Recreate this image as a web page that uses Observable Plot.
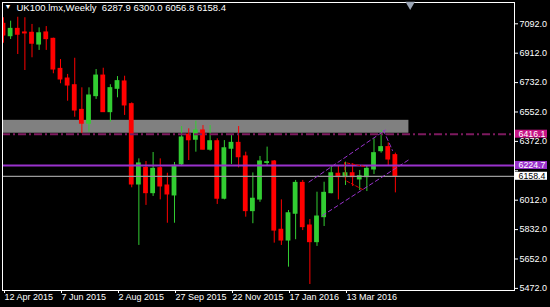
<!DOCTYPE html>
<html><head><meta charset="utf-8">
<script src="https://cdn.jsdelivr.net/npm/d3@7"></script>
<script src="https://cdn.jsdelivr.net/npm/@observablehq/plot@0.6"></script>
<style>html,body{margin:0;padding:0;background:#000;overflow:hidden}</style>
</head><body><div id="chart"></div>
<script>
// ---- data ----
const symbolName = "UK100.lmx";
const timeframe = "Weekly";
const opens  = [7092,7016,7061,7039,7037,6965,7039,7000,6816,6757,6716,6565,6480,6649,6775,6551,6694,6739,6600,6108,6210,6055,6208,6102,6041,6231,6414,6382,6439,6321,6373,6021,6327,6363,6280,5945,6016,6240,6249,5831,5765,5929,6118,5857,5755,5908,6055,6174,6153,6177,6139,6153,6200,6312,6337,6287.9];
const highs  = [7129,7108,7132,7129,7088,7067,7075,7004,6873,6782,6881,6700,6700,6812,6820,6719,6769,6771,6608,6265,6249,6304,6265,6177,6243,6463,6449,6496,6469,6469,6388,6377,6414,6463,6306,6179,6280,6337,6255,6014,5949,6133,6133,5894,6061,6122,6224,6224,6245,6235,6194,6224,6388,6439,6363,6300.0];
const lows   = [6973,6996,6904,6806,6884,6929,6929,6786,6725,6618,6520,6419,6428,6629,6549,6490,6639,6531,6088,5735,5980,6035,6014,5871,5871,6218,6255,6306,6320,6312,5986,6014,6231,6210,5908,5868,5999,6220,5749,5735,5602,5770,5826,5496,5729,5851,6051,6014,6102,6096,6071,6065,6169,6300,6224,6056.8];
const closes = [7020,7061,7025,7033,6970,7034,6998,6812,6751,6714,6561,6480,6653,6775,6551,6698,6741,6592,6108,6237,6055,6204,6096,6047,6223,6396,6379,6439,6321,6373,6021,6330,6363,6275,5945,6021,6249,6245,5826,5765,5932,6118,5847,5755,5912,6057,6177,6153,6177,6153,6159,6204,6300,6337,6261,6158.4];
const xTickIndex  = [0, 8, 16, 24, 32, 40, 48];
const xTickLabels = ["12 Apr 2015","7 Jun 2015","2 Aug 2015","27 Sep 2015","22 Nov 2015","17 Jan 2016","13 Mar 2016"];
const yTicks = [7092,6912,6732,6552,6372,6192,6012,5832,5652,5472];
const yHiddenLabel = 6192; // label covered by price labels in the reference
const zoneTop = 6501, zoneBottom = 6422, zoneStart = -2, zoneEnd = 56.9;
const levelValues = [6416.1, 6224.7, 6158.4];
const levelColors = ["#7d1a5f", "#9932cc", "#9a9a9a"];
const levelLabelFill = ["#c71585", "#9932cc", "#ffffff"];
const levelLabelText = ["#ffffff", "#ffffff", "#000000"];
const channelUpperIdx = [42.88, 53.61], channelUpperPrice = [6123.4, 6441.8];
const channelLowerIdx = [44.77, 56.84], channelLowerPrice = [5918.3, 6258.1];
const peakLineIdx = [53.33, 54.6], peakLinePrice = [6438.7, 6316.3];
const redShapeIdx = [50.67, 47.86, 48.0, 50.67], redShapePrice = [6218.3, 6242.8, 6132.6, 6071.4];
const shiftIndex = 57.08;

// ---- build ----
const candles = opens.map((o, i) => ({i, open: o, high: highs[i], low: lows[i], close: closes[i],
  color: closes[i] >= o ? "#32cd32" : "#ff0000"}));
const zone = [{x1: zoneStart, x2: zoneEnd, y1: zoneBottom, y2: zoneTop}];
const levels = levelValues.map((v, k) => ({v, color: levelColors[k], bg: levelLabelFill[k], fg: levelLabelText[k]}));
const pts = (xs, ys, g) => xs.map((x, k) => ({x, y: ys[k], g}));
const channel = [...pts(channelUpperIdx, channelUpperPrice, "u"), ...pts(channelLowerIdx, channelLowerPrice, "l"), ...pts(peakLineIdx, peakLinePrice, "p")];
const redShape = pts(redShapeIdx, redShapePrice, "r");
const last = candles[candles.length - 1];
const nb = "\u00a0";
const title = `${symbolName},${timeframe}${nb}${nb}${last.open.toFixed(1)} ${last.high.toFixed(1)} ${last.low.toFixed(1)} ${last.close.toFixed(1)}`;

const chart = Plot.plot({
  width: 550, height: 307,
  marginLeft: 2, marginRight: 36, marginTop: 2, marginBottom: 17,
  style: {background: "#000", color: "#fff", fontFamily: "'Liberation Sans', Arial, sans-serif", fontSize: "9px"},
  x: {type: "linear", domain: [-0.1404, 71.72]},
  y: {type: "linear", domain: [5459.1, 7222.4]},
  marks: [
    Plot.rect(zone, {x1: "x1", x2: "x2", y1: "y1", y2: "y2", fill: "#808080", clip: true}),
    Plot.ruleX(candles, {x: "i", y1: "low", y2: "high", stroke: "color", strokeWidth: 1, clip: true}),
    Plot.rect(candles, {x1: "i", x2: "i", y1: "open", y2: "close", fill: "color",
      insetLeft: -2.4, insetRight: -2.4, insetTop: -0.5, insetBottom: -0.5, clip: true}),
    Plot.ruleY(levels.slice(0, 1), {y: "v", stroke: "color", strokeWidth: 2, strokeDasharray: "8,3,2,3"}),
    Plot.ruleY(levels.slice(1, 2), {y: "v", stroke: "color", strokeWidth: 2}),
    Plot.ruleY(levels.slice(2, 3), {y: "v", stroke: "color", strokeWidth: 1.3}),
    Plot.line(channel, {x: "x", y: "y", z: "g", stroke: "#9932cc", strokeWidth: 1, strokeDasharray: "4,3", clip: true}),
    Plot.line(redShape, {x: "x", y: "y", stroke: "#dd0000", strokeWidth: 1, strokeDasharray: "3,2", clip: true}),
    Plot.frame({stroke: "#fff"}),
    Plot.axisX({ticks: xTickIndex, tickFormat: d => xTickLabels[xTickIndex.indexOf(d)], anchor: "bottom",
      tickSize: 3, tickPadding: 0, textAnchor: "start", dx: 1, label: null, fill: "#fff", stroke: "#fff"}),
    Plot.axisY({ticks: yTicks, tickFormat: d => d === yHiddenLabel ? "" : d.toFixed(1), anchor: "right",
      tickSize: 3, tickPadding: 2, label: null, fill: "#fff", stroke: "#fff"}),
    Plot.rect(levels, {y1: "v", y2: "v", fill: "bg", insetLeft: 513, insetRight: -33, insetTop: -4, insetBottom: -4}),
    Plot.text(levels, {y: "v", text: d => d.v.toFixed(1), frameAnchor: "right", dx: 4, textAnchor: "start", fill: "fg", fontSize: 8.8}),
    Plot.text([title], {text: d => d, frameAnchor: "top-left", dx: 14, dy: 2, lineAnchor: "top", textAnchor: "start", fill: "#fff", fontSize: 9.5}),
    Plot.text(["\u25bc"], {text: d => d, frameAnchor: "top-left", dx: 2, dy: 2, lineAnchor: "top", textAnchor: "start", fill: "#fff", fontSize: 7}),
    Plot.dot([shiftIndex], {x: d => d, frameAnchor: "top", symbol: "triangle", rotate: 180, r: 3.5, dy: 2, fill: "#9aa4b4", stroke: "none"})
  ]
});
document.getElementById("chart").append(chart);
</script>
</body></html>
